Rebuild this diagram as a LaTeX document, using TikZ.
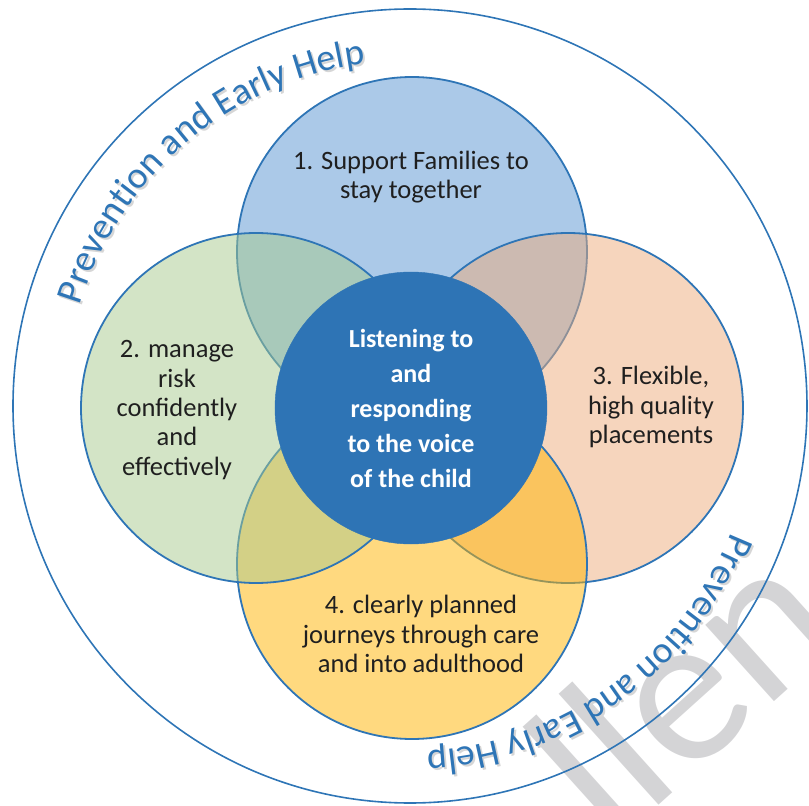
\documentclass[tikz,border=0pt]{standalone}
\usepackage{fontspec}
\setmainfont{Carlito}
\usetikzlibrary{decorations.text}
\definecolor{rimblue}{RGB}{46,117,182}
\definecolor{hubblue}{RGB}{46,116,181}
\definecolor{famblue}{RGB}{87,147,209}
\definecolor{riskgreen}{RGB}{167,201,141}
\definecolor{placepeach}{RGB}{237,171,123}
\definecolor{careyellow}{RGB}{255,179,0}
\definecolor{markgrey}{RGB}{212,212,214}

\begin{document}
\begin{tikzpicture}[x=1pt, y=1pt,
    petal/.style={circle, draw=rimblue, line width=1.8pt, fill opacity=0.5,
                  minimum size=350pt, inner sep=0pt},
    blurb/.style={align=center, text=black!88, font=\fontsize{26.5}{29.3}\selectfont},
    hub/.style={circle, fill=hubblue, draw=hubblue, minimum size=272pt, inner sep=0pt,
                align=center, text=white, font=\fontsize{26}{35}\selectfont\bfseries},
    ringtext/.style={decorate, decoration={text along path, text color=#1,
                  text={|\fontsize{37.5}{37.5}\selectfont|Prevention and Early Help}}},
    bgletters/.style={anchor=base west, rotate=42, inner sep=0pt, text=markgrey,
                 font=\fontsize{215}{215}\selectfont}
]
    \useasboundingbox (-410,-400) rectangle (399,406);
    \clip (-410,-400) rectangle (399,406);

    % faint lettering in the background
    \node[bgletters] (wm) at (201,-443) {llen};

    % outer ring
    \draw[rimblue, line width=1.6pt] (0,0) circle[radius=397];

    % the four petals, half transparent so the overlaps mix
    \node[petal, fill=famblue]    (fam)   at (2,154)  {};
    \node[petal, fill=placepeach] (place) at (158,-2) {};
    \node[petal, fill=careyellow] (care)  at (2,-158) {};
    \node[petal, fill=riskgreen]  (risk)  at (-154,-2) {};

    \node[hub] (voice) at (1,-2) {Listening to\\and\\responding\\to the voice\\of the child};

    \node[blurb] (famtxt)   at (1,229)   {1. Support Families to\\stay together};
    \node[blurb] (risktxt)  at (-233,-4) {2. manage\\risk\\confidently\\and\\effectively};
    \node[blurb] (placetxt) at (241,-1)  {3. Flexible,\\high quality\\placements};
    \node[blurb] (caretxt)  at (11,-228) {4. clearly planned\\journeys through care\\and into adulthood};

    % curved captions with a soft shadow
    \path[ringtext=black!16, shift={(2,-2)}] (163:345) arc[start angle=163, end angle=80, radius=345];
    \path[ringtext=rimblue] (163:345) arc[start angle=163, end angle=80, radius=345];
    \path[ringtext=black!16, shift={(2,-2)}] (-21.5:345) arc[start angle=-21.5, end angle=-105, radius=345];
    \path[ringtext=rimblue] (-21.5:345) arc[start angle=-21.5, end angle=-105, radius=345];
\end{tikzpicture}
\end{document}
